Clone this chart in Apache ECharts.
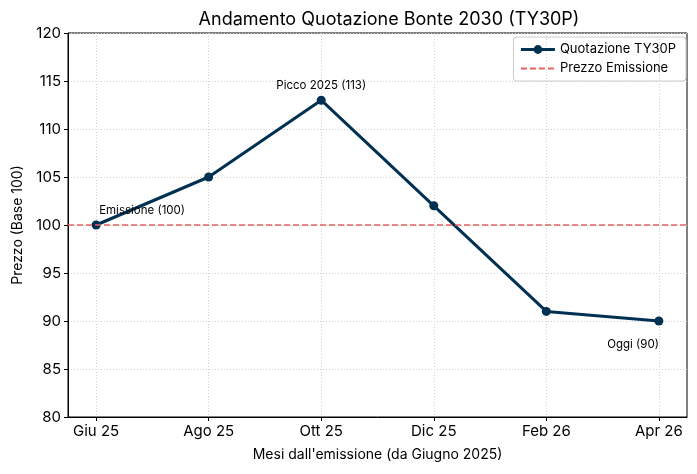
<!DOCTYPE html>
<html>
<head>
<meta charset="utf-8">
<script src="https://cdn.jsdelivr.net/npm/echarts@6/dist/echarts.min.js"></script>
<style>
  html, body { margin: 0; padding: 0; background: #fff; }
  #chart { width: 697px; height: 474px; }
</style>
</head>
<body>
<div id="chart"></div>
<script>
// dati
const months = ['Giu 25', 'Ago 25', 'Ott 25', 'Dic 25', 'Feb 26', 'Apr 26']
const prices = [100, 105, 113, 102, 91, 90]
const issuePrice = 100
const notes = ['Emissione (100)', '', 'Picco 2025 (113)', '', '', 'Oggi (90)']
const yTicks = [80, 85, 90, 95, 100, 105, 110, 115, 120]

const fontFamily = 'Inter, "Noto Sans", sans-serif'
const lineColor = '#003153'
const dashColor = '#e86262'

// posizione delle etichette per i punti annotati
const labelStyle = {
  0: { align: 'left', offset: [3, -14] },
  2: { align: 'center', offset: [0, -15] },
  5: { align: 'right', offset: [0, 24] }
}

const seriesData = prices.map((v, i) => {
  const item = { value: [i, v] }
  if (notes[i]) {
    item.label = {
      show: true,
      position: 'inside',
      formatter: notes[i],
      verticalAlign: 'middle',
      color: '#000',
      fontSize: 11.5,
      fontFamily: fontFamily,
      ...labelStyle[i]
    }
  }
  return item
})

const chart = echarts.init(document.getElementById('chart'))

const option = {
  animation: false,
  backgroundColor: '#fff',
  title: {
    text: 'Andamento Quotazione Bonte 2030 (TY30P)',
    left: 384,
    textAlign: 'center',
    top: 6,
    textStyle: { fontSize: 18, fontWeight: 'normal', color: '#000', fontFamily: fontFamily }
  },
  grid: {
    left: 68, right: 10, top: 33, bottom: 57,
    show: true, borderColor: '#000', borderWidth: 1
  },
  legend: {
    right: 11, top: 37,
    orient: 'vertical',
    itemWidth: 34, itemHeight: 11, itemGap: 6,
    padding: [6, 10, 6, 6],
    borderColor: '#ccc', borderWidth: 1, borderRadius: 3,
    textStyle: { fontSize: 13, color: '#000', fontFamily: fontFamily },
    data: [
      { name: 'Quotazione TY30P', lineStyle: { width: 3 } },
      { name: 'Prezzo Emissione', itemStyle: { opacity: 0 } }
    ]
  },
  xAxis: {
    type: 'value',
    min: -0.25, max: 5.25,
    interval: 1,
    name: "Mesi dall'emissione (da Giugno 2025)",
    nameLocation: 'middle',
    nameGap: 31,
    nameTextStyle: { fontSize: 14, color: '#000', fontFamily: fontFamily },
    axisLine: { show: true, onZero: false, lineStyle: { color: '#000' } },
    axisTick: { show: true, length: 4, lineStyle: { color: '#000' },
      customValues: months.map((m, i) => i) },
    axisLabel: {
      fontSize: 15, color: '#000', fontFamily: fontFamily, margin: 7,
      customValues: months.map((m, i) => i),
      formatter: v => months[Math.round(v)] || ''
    },
    splitLine: { show: true, lineStyle: { color: '#d0d0d0', type: [1, 2] } }
  },
  yAxis: {
    type: 'value',
    min: 80, max: 120, interval: 5,
    name: 'Prezzo (Base 100)',
    nameLocation: 'middle',
    nameGap: 42,
    nameTextStyle: { fontSize: 14, color: '#000', fontFamily: fontFamily },
    axisLine: { show: true, onZero: false, lineStyle: { color: '#000' } },
    axisTick: { show: true, length: 4, lineStyle: { color: '#000' } },
    axisLabel: {
      fontSize: 15, color: '#000', fontFamily: fontFamily, margin: 7,
      formatter: v => (yTicks.includes(v) ? String(v) : '')
    },
    splitLine: { show: true, lineStyle: { color: '#d0d0d0', type: [1, 2] } }
  },
  series: [
    {
      name: 'Prezzo Emissione',
      type: 'line',
      data: [],
      symbol: 'none',
      itemStyle: { color: dashColor },
      lineStyle: { color: dashColor, width: 1.5, type: [6, 3] },
      markLine: {
        silent: true,
        symbol: 'none',
        label: { show: false },
        lineStyle: { color: dashColor, width: 1.5, type: [6, 3] },
        data: [{ yAxis: issuePrice }]
      },
      z: 1
    },
    {
      name: 'Quotazione TY30P',
      type: 'line',
      data: seriesData,
      symbol: 'circle',
      symbolSize: 9,
      itemStyle: { color: lineColor },
      lineStyle: { color: lineColor, width: 3 },
      label: { show: false },
      z: 3
    }
  ]
}

chart.setOption(option)
</script>
</body>
</html>
